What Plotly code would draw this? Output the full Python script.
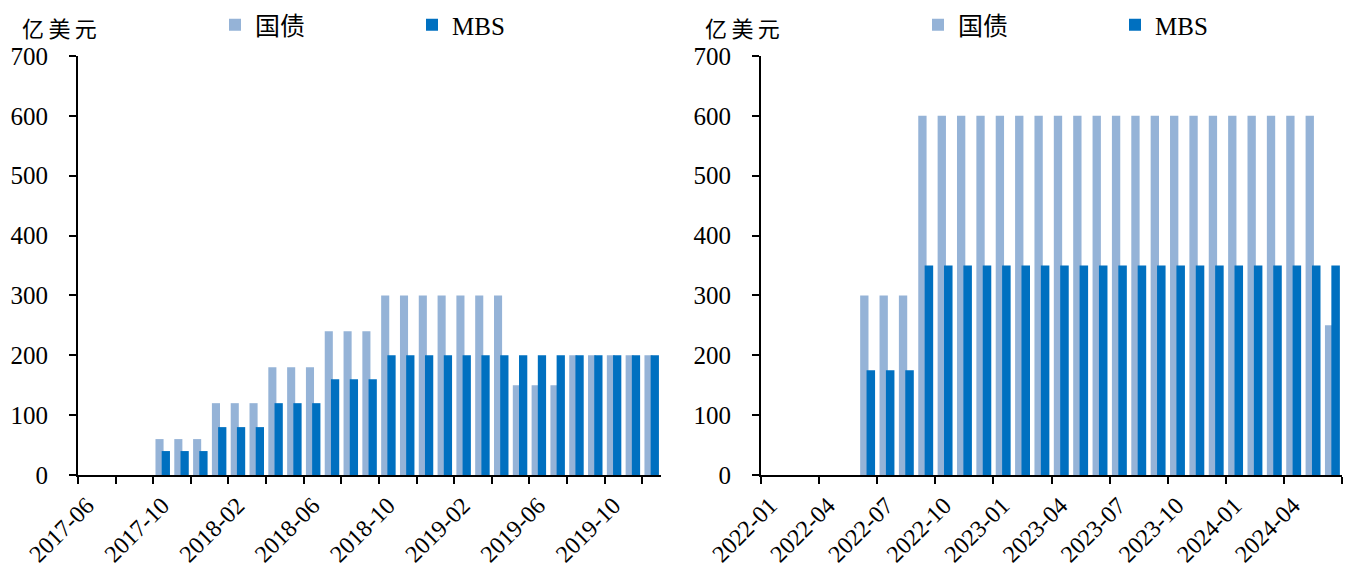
import plotly.graph_objects as go
import pandas as pd

# Monthly runoff caps (100 million USD)
left_months = pd.period_range("2017-06", "2019-12", freq="M").strftime("%Y-%m").tolist()
left_treasury = [0, 0, 0, 0,
                 60, 60, 60,
                 120, 120, 120,
                 180, 180, 180,
                 240, 240, 240,
                 300, 300, 300, 300, 300, 300, 300,
                 150, 150, 150,
                 200, 200, 200, 200, 200]
left_mbs = [0, 0, 0, 0,
            40, 40, 40,
            80, 80, 80,
            120, 120, 120,
            160, 160, 160,
            200, 200, 200, 200, 200, 200, 200,
            200, 200, 200,
            200, 200, 200, 200, 200]

right_months = pd.period_range("2022-01", "2024-06", freq="M").strftime("%Y-%m").tolist()
right_treasury = [0] * 5 + [300] * 3 + [600] * 21 + [250]
right_mbs = [0] * 5 + [175] * 3 + [350] * 21 + [350]

y_ticks = [0, 100, 200, 300, 400, 500, 600, 700]
unit_label = "亿\u2009美\u2009元"

LIGHT = "#95B3D7"
DARK = "#0070C0"
FONT = "'Liberation Serif', 'Times New Roman', 'Noto Sans CJK SC', serif"
W, H = 1349, 570

fig = go.Figure()

def add_pair(months, ust, mbs, xa, ya, legend):
    idx = list(range(len(months)))
    fig.add_trace(go.Bar(x=idx, y=ust, name="国债", marker_color=LIGHT,
                         width=0.43, offset=0.12, xaxis=xa, yaxis=ya,
                         legend=legend, marker_line_width=0))
    fig.add_trace(go.Bar(x=idx, y=mbs, name="MBS", marker_color=DARK,
                         width=0.44, offset=0.45, xaxis=xa, yaxis=ya,
                         legend=legend, marker_line_width=0))

add_pair(left_months, left_treasury, left_mbs, "x", "y", "legend")
add_pair(right_months, right_treasury, right_mbs, "x2", "y2", "legend2")

# Tick positions: left every 2 months (labels every 4), right every 3 months
left_tickvals = list(range(0, len(left_months), 2))
left_ticktext = [left_months[i] if i % 4 == 0 else "" for i in left_tickvals]
right_tickvals = list(range(0, len(right_months) + 1, 3))
right_ticktext = [right_months[i] if i < len(right_months) else "" for i in right_tickvals]

y0 = 1 - 475 / H
y1 = 1 - 56 / H

common_x = dict(showline=True, linecolor="black", linewidth=2, ticks="outside",
                ticklen=7, tickwidth=2, tickcolor="black", tickangle=-45,
                showgrid=False, zeroline=False, automargin=False,
                ticklabelshift=9, ticklabelstandoff=-2,
                tickfont=dict(family=FONT, size=24, color="black"))
common_y = dict(showline=True, linecolor="black", linewidth=2, ticks="outside",
                ticklen=7, tickwidth=2, tickcolor="black", range=[0, 700],
                tickvals=y_ticks, showgrid=False, zeroline=False, automargin=False,
                ticklabelstandoff=16,
                tickfont=dict(family=FONT, size=25, color="black"))

legend_style = dict(orientation="h", y=1 - 2 / H, xanchor="left", yanchor="top",
                    entrywidth=152, entrywidthmode="pixels", itemwidth=30,
                    font=dict(family=FONT, size=25, color="black"),
                    bgcolor="rgba(0,0,0,0)")

fig.update_layout(
    width=W, height=H,
    margin=dict(l=0, r=0, t=0, b=0, autoexpand=False),
    plot_bgcolor="white", paper_bgcolor="white",
    barmode="overlay",
    xaxis=dict(domain=[78 / W, 661 / W], range=[0, len(left_months)],
               tickvals=left_tickvals, ticktext=left_ticktext, anchor="y", **common_x),
    yaxis=dict(domain=[y0, y1], anchor="x", **common_y),
    xaxis2=dict(domain=[761 / W, 1342 / W], range=[0, len(right_months)],
                tickvals=right_tickvals, ticktext=right_ticktext, anchor="y2", **common_x),
    yaxis2=dict(domain=[y0, y1], anchor="x2", **common_y),
    legend=dict(x=215 / W, **legend_style),
    legend2=dict(x=918 / W, **legend_style),
    annotations=[
        dict(text=unit_label, x=59 / W, y=1 - 30 / H, xref="paper", yref="paper",
             xanchor="center", yanchor="middle",
             showarrow=False, font=dict(family=FONT, size=22, color="black")),
        dict(text=unit_label, x=742 / W, y=1 - 30 / H, xref="paper", yref="paper",
             xanchor="center", yanchor="middle",
             showarrow=False, font=dict(family=FONT, size=22, color="black")),
    ],
)

fig.write_html("out.html")
